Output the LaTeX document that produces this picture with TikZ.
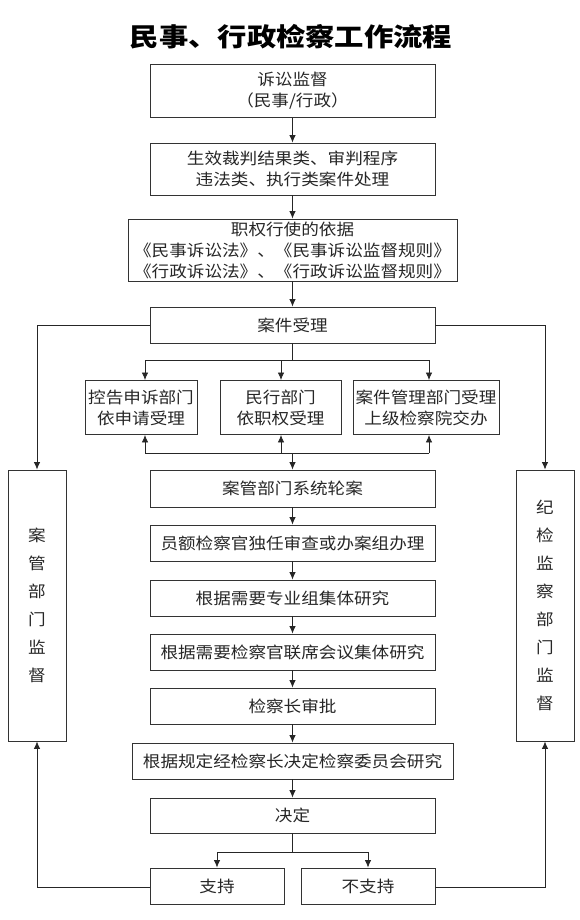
\documentclass[tikz,border=0pt]{standalone}
\usepackage{fontspec}
\setmainfont{Noto Sans CJK SC}[FakeStretch=1.1]
\newfontfamily\titlefont{Noto Sans CJK SC}[FakeStretch=1.15]
\usetikzlibrary{arrows.meta}
\begin{document}
\begin{tikzpicture}[x=1pt,y=-1pt,
  box/.style={draw=black!80, line width=0.9pt, inner sep=0pt, align=center,
    font=\fontsize{16}{21}\selectfont, text=black!85},
  vbox/.style={box, font=\fontsize{16}{28}\selectfont},
  ln/.style={draw=black!85, line width=0.8pt},
  arr/.style={ln, -{Latex[length=7.5pt,width=6.5pt]}}]
\useasboundingbox (0,0) rectangle (580,920);
\node[font=\titlefont\bfseries\fontsize{25.5}{30}\selectfont] (title) at (291,37) {民事、行政检察工作流程};
% main column
\node[box, minimum width=285pt, minimum height=53pt] (b1) at (292.5,91) {诉讼监督\\（民事/行政）};
\node[box, minimum width=285pt, minimum height=52pt] (b2) at (292.5,169) {生效裁判结果类、审判程序\\违法类、执行类案件处理};
\node[box, minimum width=329pt, minimum height=62pt] (b3) at (292.5,250) {职权行使的依据\\《民事诉讼法》、《民事诉讼监督规则》\\《行政诉讼法》、《行政诉讼监督规则》};
\node[box, minimum width=285pt, minimum height=36pt] (b4) at (292.5,325) {案件受理};
% three boxes
\node[box, minimum width=112pt, minimum height=54pt] (ta) at (141,407.5) {控告申诉部门\\依申请受理};
\node[box, minimum width=121pt, minimum height=54pt] (tb) at (280.5,407.5) {民行部门\\依职权受理};
\node[box, minimum width=146pt, minimum height=54pt] (tc) at (426,407.5) {案件管理部门受理\\上级检察院交办};
% lower column
\node[box, minimum width=285pt, minimum height=37pt] (c1) at (292.5,488.5) {案管部门系统轮案};
\node[box, minimum width=285pt, minimum height=36pt] (c2) at (292.5,543) {员额检察官独任审查或办案组办理};
\node[box, minimum width=285pt, minimum height=36pt] (c3) at (292.5,598) {根据需要专业组集体研究};
\node[box, minimum width=285pt, minimum height=36pt] (c4) at (292.5,652) {根据需要检察官联席会议集体研究};
\node[box, minimum width=285pt, minimum height=36pt] (c5) at (292.5,706) {检察长审批};
\node[box, minimum width=321pt, minimum height=36pt] (c6) at (292.5,761) {根据规定经检察长决定检察委员会研究};
\node[box, minimum width=285pt, minimum height=35pt] (c7) at (292.5,815.5) {决定};
\node[box, minimum width=134pt, minimum height=36pt] (s1) at (217,886) {支持};
\node[box, minimum width=134pt, minimum height=36pt] (s2) at (368,886) {不支持};
% side boxes
\node[vbox, minimum width=58pt, minimum height=271pt] (L) at (37,605.5) {案\\管\\部\\门\\监\\督};
\node[vbox, minimum width=58pt, minimum height=271pt] (R) at (545,605.5) {纪\\检\\监\\察\\部\\门\\监\\督};
% coordinates
\coordinate (f1) at (292.5,360);
\coordinate (f1a) at (145,360);
\coordinate (f1b) at (281,360);
\coordinate (f1c) at (429,360);
\coordinate (g1) at (292.5,453);
\coordinate (g1a) at (145,453);
\coordinate (g1b) at (281,453);
\coordinate (g1c) at (429,453);
\coordinate (f2) at (292.5,852);
\coordinate (f2a) at (217,852);
\coordinate (f2b) at (368,852);
\coordinate (lt) at (37,325);
\coordinate (rt) at (545,325);
\coordinate (lb) at (37,887);
\coordinate (rb) at (545,887);
% connectors
\draw[arr] (b1) -- (b2);
\draw[arr] (b2) -- (b3);
\draw[arr] (b3) -- (b4);
\draw[ln] (b4.south) -- (f1);
\draw[ln] (f1a) -- (f1c);
\draw[arr] (f1a) -- (f1a |- ta.north);
\draw[arr] (f1b) -- (f1b |- tb.north);
\draw[arr] (f1c) -- (f1c |- tc.north);
\draw[ln] (g1a) -- (g1c);
\draw[arr] (g1a) -- (g1a |- ta.south);
\draw[arr] (g1b) -- (g1b |- tb.south);
\draw[arr] (g1c) -- (g1c |- tc.south);
\draw[arr] (g1) -- (c1.north);
\draw[arr] (c1) -- (c2);
\draw[arr] (c2) -- (c3);
\draw[arr] (c3) -- (c4);
\draw[arr] (c4) -- (c5);
\draw[arr] (c5) -- (c6);
\draw[arr] (c6) -- (c7);
\draw[ln] (c7.south) -- (f2);
\draw[ln] (f2a) -- (f2b);
\draw[arr] (f2a) -- (s1.north);
\draw[arr] (f2b) -- (s2.north);
\draw[arr] (b4.west) -- (lt) -- (L.north);
\draw[arr] (b4.east) -- (rt) -- (R.north);
\draw[arr] (s1.west |- lb) -- (lb) -- (L.south);
\draw[arr] (s2.east |- rb) -- (rb) -- (R.south);
\end{tikzpicture}
\end{document}
